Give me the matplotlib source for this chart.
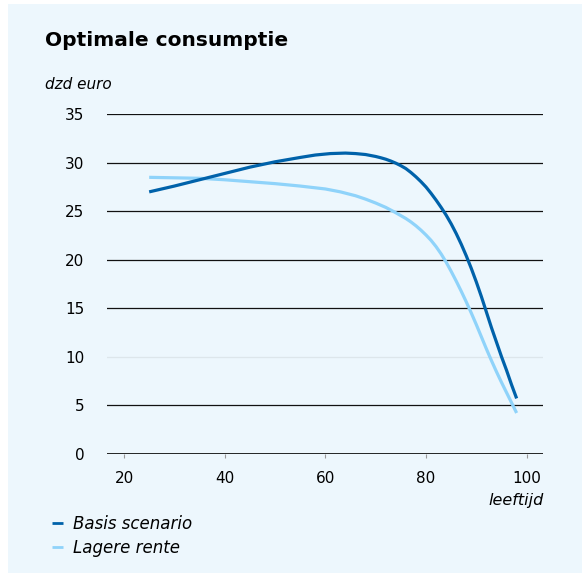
import matplotlib
matplotlib.use("Agg")
import matplotlib.pyplot as plt
from matplotlib.patches import Rectangle

plt.rcParams['font.family'] = ['DejaVu Sans']

# leeftijd (age) and consumption in dzd euro
ages_b = [25, 30, 35, 40, 45, 50, 55, 58, 61, 64, 66, 68, 70, 71, 72, 73, 74, 75, 76, 77, 78, 79,
          80, 81, 82, 83, 84, 85, 86, 87, 88, 89, 90, 91, 92, 93, 94, 95, 96, 97, 98]
basis = [27.0, 27.6, 28.25, 28.9, 29.55, 30.1, 30.55, 30.8, 30.95, 31.0, 30.95, 30.85, 30.65,
         30.52, 30.37, 30.18, 29.96, 29.7, 29.4, 29.0, 28.55, 28.05, 27.5, 26.85, 26.15, 25.4,
         24.6, 23.7, 22.7, 21.6, 20.4, 19.1, 17.7, 16.2, 14.6, 13.0, 11.5, 10.0, 8.6, 7.1, 5.7]
ages_l = [25, 30, 35, 40, 45, 50, 55, 60, 63, 66, 68, 70, 72, 74, 76, 77, 78, 79, 80, 81, 82,
          83, 84, 85, 86, 87, 88, 89, 90, 91, 92, 93, 94, 95, 96, 97, 98]
lager = [28.5, 28.45, 28.4, 28.25, 28.05, 27.85, 27.6, 27.3, 27.0, 26.6, 26.25, 25.85, 25.4,
         24.85, 24.25, 23.9, 23.5, 23.05, 22.55, 22.0, 21.35, 20.6, 19.75, 18.8, 17.8, 16.75,
         15.65, 14.5, 13.3, 12.05, 10.8, 9.6, 8.45, 7.35, 6.3, 5.25, 4.2]
labels = ['Basis scenario', 'Lagere rente']
yticks = [0, 5, 10, 15, 20, 25, 30, 35]
xticks = [20, 40, 60, 80, 100]

dark = '#0062aa'
light = '#8fd3fa'
bg = '#edf7fd'

fig = plt.figure(figsize=(5.82, 5.80), dpi=100)
fig.patch.set_facecolor('white')
fig.patches.append(Rectangle((8/582, 7/580), 1 - 8/582, 569/580, transform=fig.transFigure,
                             facecolor=bg, edgecolor='none', zorder=-10))

ax = fig.add_axes([107.3/582, 1 - 453.7/580, 435.4/582, (453.7 - 114.3)/580])
ax.set_facecolor('none')
ax.set_xlim(16.68, 103.18)
ax.set_ylim(0, 35)

for v in yticks[1:]:
    c = '#dde6eb' if v == 10 else '#111111'
    ax.axhline(v, color=c, lw=0.9, zorder=1)
ax.axhline(0, color='#111111', lw=2.0, zorder=3)

l1, = ax.plot(ages_b, basis, color=dark, lw=2.3, zorder=5, solid_capstyle='butt')
l2, = ax.plot(ages_l, lager, color=light, lw=2.3, zorder=4, solid_capstyle='butt')

for s in ax.spines.values():
    s.set_visible(False)
ax.set_yticks(yticks)
ax.set_xticks(xticks)
ax.tick_params(axis='y', length=0, pad=16.5, labelsize=11)
ax.tick_params(axis='x', length=3, width=0.8, color='#999999', pad=9.5, labelsize=11)

fig.text(45/582, 1 - 41/580, 'Optimale consumptie', fontsize=14.5, fontweight='bold',
         va='center', ha='left')
fig.text(45/582, 1 - 84/580, 'dzd euro', fontsize=11, style='italic', va='center', ha='left')
fig.text(544/582, 1 - 500/580, 'leeftijd', fontsize=11.5, style='italic', va='center', ha='right')

leg = fig.legend([l1, l2], labels, loc='upper left', bbox_to_anchor=(37/582, 1 - 500/580),
                 frameon=False, handlelength=0.65, handletextpad=0.6, labelspacing=0.35,
                 prop={'style': 'italic', 'size': 12})
for h in leg.get_lines():
    h.set_linewidth(2.0)

fig.savefig('out.png', dpi=100, facecolor='white')
